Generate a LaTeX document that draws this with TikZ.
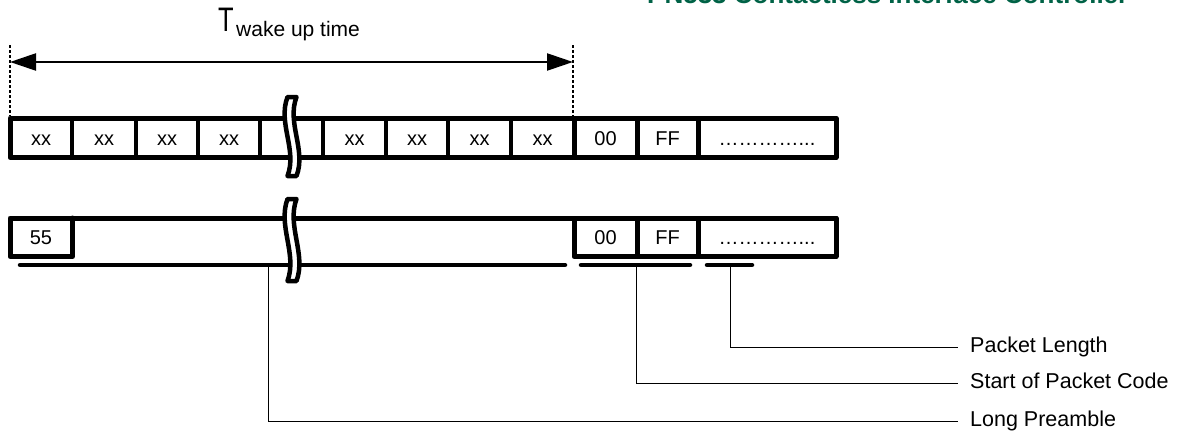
\documentclass[tikz,border=0pt]{standalone}
\usepackage{fontspec}
\setmainfont{Liberation Sans}
\newfontfamily\titfont{Liberation Sans}[FakeStretch=0.75]
\usetikzlibrary{arrows.meta}
\definecolor{hdrgreen}{RGB}{0,98,70}
\newcommand\drawbreak[3]{%
  \draw[brk] (#1-4.5,#2) .. controls (#1-14.5,{#2+0.33*(#3-#2)}) and (#1+5.5,{#2+0.67*(#3-#2)}) .. (#1-4.5,#3)
    -- (#1+4.5,#3) .. controls (#1+14.5,{#2+0.67*(#3-#2)}) and (#1-5.5,{#2+0.33*(#3-#2)}) .. (#1+4.5,#2) -- cycle;}
\begin{document}
\begin{tikzpicture}[x=1pt,y=-1pt,
  frame/.style={line width=5pt, line join=round, line cap=round},
  thindiv/.style={line width=3.5pt},
  thickdiv/.style={line width=5pt},
  cell/.style={font=\fontsize{20}{20}\selectfont, anchor=base, inner sep=0pt},
  uline/.style={line width=4.5pt, line cap=round},
  conn/.style={line width=1pt},
  lab/.style={font=\fontsize{21.5}{21.5}\selectfont, anchor=west, inner xsep=12pt, inner ysep=0pt, text height=15.5pt, text depth=4.5pt},
  brk/.style={line width=4.5pt, line join=round, fill=white, draw=black},
  guide/.style={line width=1.5pt, dash pattern=on 3pt off 2pt},
  dimarrow/.style={line width=2.3pt, {Triangle[length=26pt,width=17pt]}-{Triangle[length=26pt,width=17pt]}}
]
\useasboundingbox (0,0) rectangle (1189,431);
\clip (0,0) rectangle (1189,431);

% cut-off page header
\node[font=\bfseries\fontsize{26}{26}\selectfont, text=hdrgreen, anchor=base west, inner sep=0pt] (hdr) at (647,3.5) {PN533 Contactless Interface Controller};

% wake-up time dimension
\node[font=\titfont\fontsize{34}{34}\selectfont, anchor=base west, inner sep=0pt] (T) at (218,31.7) {T};
\node[font=\fontsize{21}{21}\selectfont, anchor=base west, inner sep=0pt] (Tsub) at (236,36) {wake up time};
\coordinate (gL1) at (10,45);  \coordinate (gL2) at (10,116);
\coordinate (gR1) at (573,45); \coordinate (gR2) at (573,116);
\draw[guide] (gL1) -- (gL2);
\draw[guide] (gR1) -- (gR2);
\coordinate (aL) at (10,62); \coordinate (aR) at (573,62);
\draw[dimarrow] (aL) -- (aR);

% top row
\draw[frame] (10,118) rectangle (836,157.5);
\foreach \x in {72,136,198,260,323,386,448,511} \draw[thindiv] (\x,118) -- (\x,157.5);
\foreach \x in {574,637,698} \draw[thickdiv] (\x,118) -- (\x,157.5);
\node[cell] (t1) at (41,145) {xx};
\node[cell] (t2) at (104,145) {xx};
\node[cell] (t3) at (167,145) {xx};
\node[cell] (t4) at (229,145) {xx};
\node[cell] (t5) at (354.5,145) {xx};
\node[cell] (t6) at (417,145) {xx};
\node[cell] (t7) at (479.5,145) {xx};
\node[cell] (t8) at (542.5,145) {xx};
\node[cell] (t9) at (605.5,145) {00};
\node[cell] (t10) at (667.5,145) {FF};
\node[cell] (t11) at (767,145) {…………...};

% bottom row
\draw[frame] (836,218) -- (10,218) -- (10,256.5) -- (72.5,256.5) -- (72.5,218);
\draw[frame] (574,218) rectangle (836,256.5);
\foreach \x in {637,698} \draw[thickdiv] (\x,218) -- (\x,256.5);
\node[cell] (b1) at (41,244.5) {55};
\node[cell] (b2) at (605.5,244.5) {00};
\node[cell] (b3) at (667.5,244.5) {FF};
\node[cell] (b4) at (767,244.5) {…………...};

% labels and connectors
\coordinate (pLP) at (268,265);
\coordinate (pSC) at (636,265);
\coordinate (pPL) at (730,265);
\node[lab] (lPL) at (958,347) {Packet Length};
\node[lab] (lSC) at (958,383) {Start of Packet Code};
\node[lab] (lLP) at (958,421) {Long Preamble};
\draw[conn] (pPL) |- (lPL.west);
\draw[conn] (pSC) |- (lSC.west);
\draw[conn] (pLP) |- (lLP.west);

% underlines
\draw[uline] (20,265) -- (565,265);
\draw[uline] (581,265) -- (690,265);
\draw[uline] (707,265) -- (752,265);

% break marks
\drawbreak{292}{97}{176}
\drawbreak{292}{199}{281}
\end{tikzpicture}
\end{document}
